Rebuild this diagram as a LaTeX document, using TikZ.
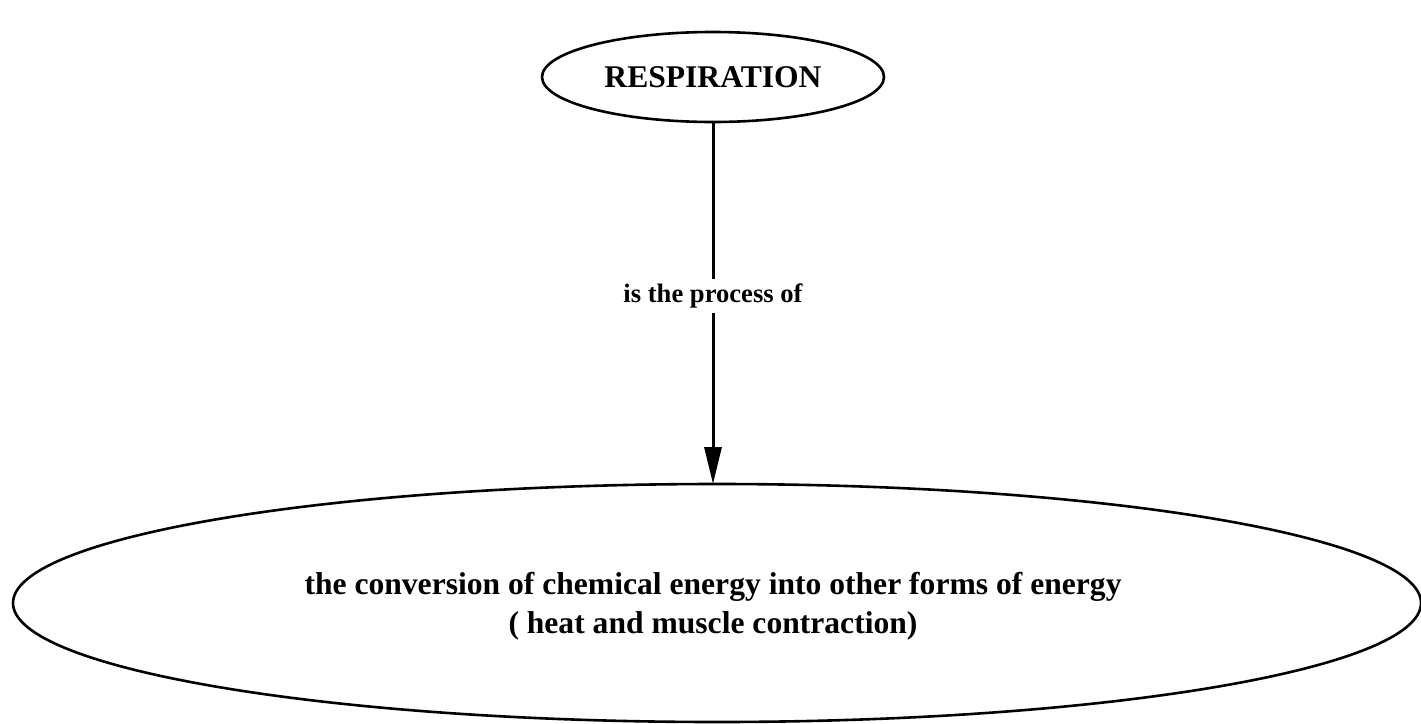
\documentclass[tikz,border=0pt]{standalone}
\usepackage{fontspec}
\setmainfont{Liberation Serif}
\usetikzlibrary{arrows.meta}
\begin{document}
\begin{tikzpicture}[x=1pt,y=-1pt,
  ovalline/.style={line width=2.6pt},
  nodetext/.style={font=\fontsize{31.6}{39}\selectfont\bfseries,align=center},
  linklabel/.style={font=\fontsize{26.6}{30}\selectfont\bfseries,fill=white,inner sep=5pt},
  linkline/.style={line width=3pt,-{Triangle[length=37pt,width=17pt]}}]
  \useasboundingbox (0,0) rectangle (1421,723);
  % concept ovals
  \draw[ovalline] (713,77) ellipse [x radius=171, y radius=45];
  \node[nodetext] (resp) at (713,77) {RESPIRATION};
  \coordinate (respbottom) at (713,122);
  \draw[ovalline] (717,603) ellipse [x radius=704, y radius=119];
  \node[nodetext] (conv) at (713,606)
    {the conversion of chemical energy into other forms of energy\\( heat and muscle contraction)};
  \coordinate (convtop) at (713,484);
  % linking phrase
  \draw[linkline] (respbottom) -- (convtop);
  \node[linklabel] (proc) at (713,296) {is the process of};
\end{tikzpicture}
\end{document}
